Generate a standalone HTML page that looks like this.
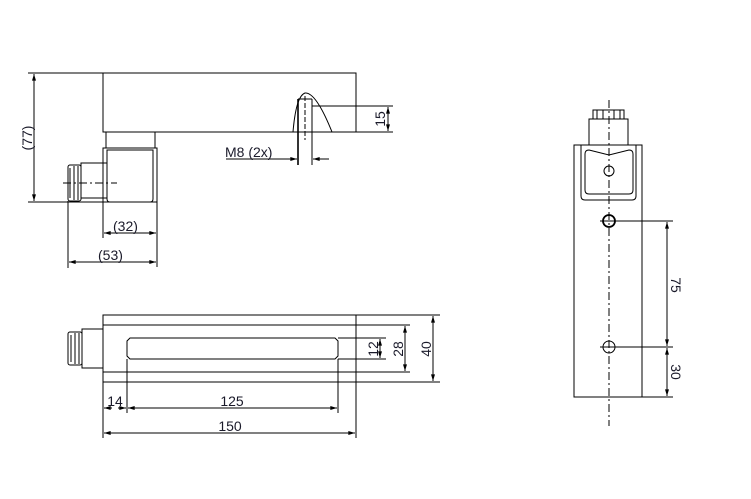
<!DOCTYPE html>
<html><head><meta charset="utf-8"><style>html,body{margin:0;padding:0;background:#fff}svg{display:block}text{font-family:"Liberation Sans",sans-serif;font-size:14px;fill:#1a1a2a}</style></head><body>
<svg width="751" height="499" viewBox="0 0 751 499" xmlns="http://www.w3.org/2000/svg">
<defs>
<marker id="a" viewBox="0 0 10 6" refX="10" refY="3" markerWidth="8" markerHeight="4" orient="auto-start-reverse" markerUnits="userSpaceOnUse"><path d="M0,0L10,3L0,6z" fill="#000"/></marker>
</defs>
<g stroke="#000" stroke-width="1" fill="none">
<rect x="103" y="73" width="253" height="59"/>
<line x1="28" y1="73" x2="103" y2="73"/>
<line x1="34" y1="74" x2="34" y2="201" marker-start="url(#a)" marker-end="url(#a)"/>
<line x1="28" y1="202" x2="157" y2="202"/>
<rect x="106" y="132" width="49" height="16"/>
<rect x="103" y="148" width="54" height="54"/>
<path d="M107,150 H153 V199 Q153,202 150,202 H110 Q107,202 107,199 Z"/>
<rect x="81" y="163" width="26" height="35"/>
<rect x="68" y="165" width="13" height="36" rx="2"/>
<line x1="70" y1="168" x2="70" y2="198"/><line x1="74" y1="166" x2="74" y2="200"/><line x1="78" y1="166" x2="78" y2="200"/>
<line x1="63" y1="183" x2="117" y2="183" stroke-dasharray="8,3,2,3"/>
<line x1="312" y1="106" x2="393" y2="106"/>
<line x1="356" y1="132" x2="393" y2="132"/>
<line x1="388" y1="107" x2="388" y2="131" marker-start="url(#a)" marker-end="url(#a)"/>
<path d="M293,132 Q296,96 305,93 Q316,92 332,132"/>
<line x1="298" y1="99" x2="298" y2="165" stroke-width="1.6"/>
<line x1="312" y1="99" x2="312" y2="165"/>
<line x1="298" y1="99" x2="312" y2="99"/>
<line x1="305" y1="96" x2="305" y2="140" stroke-dasharray="5,2"/>
<line x1="226" y1="159" x2="297" y2="159" marker-end="url(#a)"/>
<line x1="329" y1="159" x2="313" y2="159" marker-end="url(#a)"/>
<line x1="103" y1="202" x2="103" y2="238"/>
<line x1="157" y1="202" x2="157" y2="267"/>
<line x1="104" y1="233" x2="156" y2="233" marker-start="url(#a)" marker-end="url(#a)"/>
<line x1="68" y1="201" x2="68" y2="268"/>
<line x1="69" y1="262" x2="156" y2="262" marker-start="url(#a)" marker-end="url(#a)"/>
<rect x="103" y="315" width="253" height="67"/>
<line x1="103" y1="325" x2="410" y2="325"/>
<line x1="103" y1="372" x2="410" y2="372"/>
<line x1="356" y1="315" x2="440" y2="315"/>
<line x1="356" y1="382" x2="440" y2="382"/>
<path d="M130,338 H335 L338,341 V356 L335,359 H130 L127,356 V341 Z"/>
<line x1="338" y1="338" x2="386" y2="338"/>
<line x1="338" y1="359" x2="386" y2="359"/>
<line x1="380" y1="339" x2="380" y2="358" marker-start="url(#a)" marker-end="url(#a)"/>
<line x1="405" y1="326" x2="405" y2="371" marker-start="url(#a)" marker-end="url(#a)"/>
<line x1="433" y1="316" x2="433" y2="381" marker-start="url(#a)" marker-end="url(#a)"/>
<rect x="82" y="329" width="21" height="39"/>
<rect x="68" y="332" width="14" height="33" rx="2"/>
<line x1="71" y1="335" x2="71" y2="362"/><line x1="75" y1="333" x2="75" y2="364"/><line x1="79" y1="333" x2="79" y2="364"/>
<line x1="103" y1="382" x2="103" y2="438"/>
<line x1="127" y1="359" x2="127" y2="413"/>
<line x1="338" y1="359" x2="338" y2="413"/>
<line x1="356" y1="382" x2="356" y2="438"/>
<line x1="104" y1="408" x2="112" y2="408" marker-start="url(#a)"/>
<line x1="118" y1="408" x2="126" y2="408" marker-end="url(#a)"/>
<line x1="128" y1="408" x2="337" y2="408" marker-start="url(#a)" marker-end="url(#a)"/>
<line x1="104" y1="433" x2="355" y2="433" marker-start="url(#a)" marker-end="url(#a)"/>
<rect x="574" y="145" width="68" height="252"/>
<path d="M584,145 H636 V196 Q636,200 632,200 H585 Q581,200 581,196 V145"/>
<path d="M589,150 L609,155 L629,150 Q633,150 633,154 V190 Q633,194 629,194 H589 Q585,194 585,190 V154 Q585,150 589,150 Z"/>
<rect x="589" y="119" width="39" height="26"/>
<rect x="593" y="110" width="31" height="9"/>
<line x1="597" y1="110" x2="597" y2="119"/><line x1="603" y1="110" x2="603" y2="119"/><line x1="614" y1="110" x2="614" y2="119"/><line x1="620" y1="110" x2="620" y2="119"/>
<line x1="609" y1="100" x2="609" y2="426" stroke-dasharray="8,3,2,3"/>
<circle cx="609" cy="171" r="5"/>
<circle cx="609" cy="221" r="6" stroke-width="1.8"/>
<circle cx="609" cy="347" r="6"/>
<line x1="600" y1="221" x2="673" y2="221"/>
<line x1="600" y1="347" x2="673" y2="347"/>
<line x1="642" y1="397" x2="673" y2="397"/>
<line x1="667" y1="222" x2="667" y2="346" marker-start="url(#a)" marker-end="url(#a)"/>
<line x1="667" y1="348" x2="667" y2="396" marker-start="url(#a)" marker-end="url(#a)"/>
</g>
<text x="225" y="157">M8 (2x)</text>
<text x="113" y="231">(32)</text>
<text x="98" y="260">(53)</text>
<text transform="translate(32,138) rotate(-90)" text-anchor="middle">(77)</text>
<text transform="translate(385,119) rotate(-90)" text-anchor="middle">15</text>
<text transform="translate(378,349) rotate(-90)" text-anchor="middle">12</text>
<text transform="translate(403,349) rotate(-90)" text-anchor="middle">28</text>
<text transform="translate(431,349) rotate(-90)" text-anchor="middle">40</text>
<text x="115" y="406" text-anchor="middle">14</text>
<text x="232" y="406" text-anchor="middle">125</text>
<text x="230" y="431" text-anchor="middle">150</text>
<text transform="translate(671,285) rotate(90)" text-anchor="middle">75</text>
<text transform="translate(671,372) rotate(90)" text-anchor="middle">30</text>
</svg>
</body></html>
